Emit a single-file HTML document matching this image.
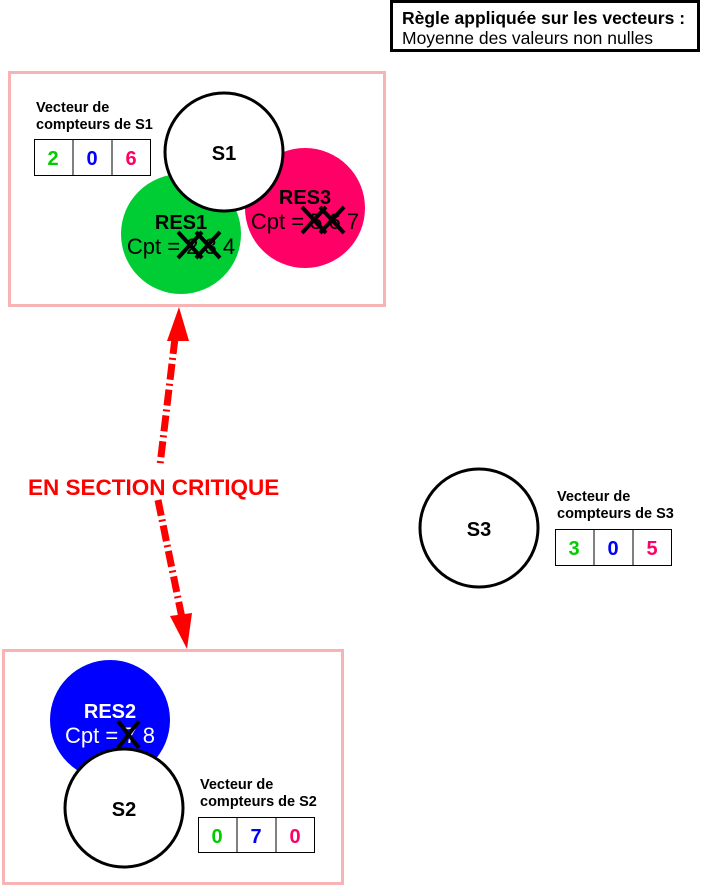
<!DOCTYPE html>
<html><head><meta charset="utf-8"><style>body{margin:0;background:#fff}svg{display:block}text{font-family:"Liberation Sans",sans-serif}</style></head><body>
<svg width="702" height="886" viewBox="0 0 702 886">
<rect x="391.5" y="1.5" width="307" height="49" fill="#fff" stroke="#000" stroke-width="3"/>
<text x="402" y="24" font-size="17.5" font-weight="bold">Règle appliquée sur les vecteurs :</text>
<text x="402" y="44" font-size="17.5">Moyenne des valeurs non nulles</text>

<rect x="9.5" y="72.5" width="375" height="233" fill="none" stroke="#f8b4b4" stroke-width="3"/>
<rect x="3.5" y="650.5" width="339" height="233" fill="none" stroke="#f8b4b4" stroke-width="3"/>

<circle cx="181" cy="234" r="60" fill="#00cc33"/>
<circle cx="305" cy="208" r="60" fill="#ff0066"/>
<circle cx="224" cy="152" r="59" fill="#fff" stroke="#000" stroke-width="3"/>
<text x="224" y="160" font-size="20" font-weight="bold" text-anchor="middle">S1</text>
<text x="181" y="229" font-size="20" font-weight="bold" text-anchor="middle">RES1</text>
<text x="181" y="254" font-size="22" text-anchor="middle">Cpt = 2 3 4</text>
<path d="M178 232 L202 258 M202 232 L178 258 M196 232 L220 258 M220 232 L196 258" stroke="#000" stroke-width="4"/>
<text x="305" y="204" font-size="20" font-weight="bold" text-anchor="middle">RES3</text>
<text x="305" y="229" font-size="22" text-anchor="middle">Cpt = 5 6 7</text>
<path d="M302 207 L326 233 M326 207 L302 233 M320 207 L344 233 M344 207 L320 233" stroke="#000" stroke-width="4"/>

<text x="36" y="112" font-size="14.5" font-weight="bold">Vecteur de</text>
<text x="36" y="129" font-size="14.5" font-weight="bold">compteurs de S1</text>
<rect x="34.5" y="139.5" width="116" height="36" fill="#fff" stroke="#000"/>
<line x1="73" y1="139" x2="73" y2="175" stroke="#000"/><line x1="112" y1="139" x2="112" y2="175" stroke="#000"/>
<text x="53" y="165" font-size="20" font-weight="bold" fill="#00cc00" text-anchor="middle">2</text>
<text x="92" y="165" font-size="20" font-weight="bold" fill="#0000ff" text-anchor="middle">0</text>
<text x="131" y="165" font-size="20" font-weight="bold" fill="#ff0066" text-anchor="middle">6</text>

<path d="M175 338 L160 465" fill="none" stroke="#f00" stroke-width="7" stroke-dasharray="16,4,2,4"/>
<path d="M158 500 L182 618" fill="none" stroke="#f00" stroke-width="7" stroke-dasharray="16,4,2,4"/>
<polygon points="179,307 167,341 189,341" fill="#f00"/>
<polygon points="187,649 170,616 192,613" fill="#f00"/>
<text x="28" y="495" font-size="22.5" font-weight="bold" fill="#f00">EN SECTION CRITIQUE</text>

<circle cx="479" cy="528" r="59" fill="#fff" stroke="#000" stroke-width="3"/>
<text x="479" y="536" font-size="20" font-weight="bold" text-anchor="middle">S3</text>
<text x="557" y="501" font-size="14.5" font-weight="bold">Vecteur de</text>
<text x="557" y="518" font-size="14.5" font-weight="bold">compteurs de S3</text>
<rect x="555.5" y="529.5" width="116" height="36" fill="#fff" stroke="#000"/>
<line x1="594" y1="529" x2="594" y2="565" stroke="#000"/><line x1="633" y1="529" x2="633" y2="565" stroke="#000"/>
<text x="574" y="555" font-size="20" font-weight="bold" fill="#00cc00" text-anchor="middle">3</text>
<text x="613" y="555" font-size="20" font-weight="bold" fill="#0000ff" text-anchor="middle">0</text>
<text x="652" y="555" font-size="20" font-weight="bold" fill="#ff0066" text-anchor="middle">5</text>

<circle cx="110" cy="720" r="60" fill="#0000ff"/>
<text x="110" y="718" font-size="20" font-weight="bold" fill="#fff" text-anchor="middle">RES2</text>
<text x="110" y="743" font-size="22" fill="#fff" text-anchor="middle">Cpt = 7 8</text>
<path d="M118 721 L139 748 M139 721 L118 748" stroke="#000" stroke-width="4"/>
<circle cx="124" cy="808" r="59" fill="#fff" stroke="#000" stroke-width="3"/>
<text x="124" y="816" font-size="20" font-weight="bold" text-anchor="middle">S2</text>
<text x="200" y="789" font-size="14.5" font-weight="bold">Vecteur de</text>
<text x="200" y="806" font-size="14.5" font-weight="bold">compteurs de S2</text>
<rect x="198.5" y="817.5" width="116" height="35" fill="#fff" stroke="#000"/>
<line x1="237" y1="817" x2="237" y2="852" stroke="#000"/><line x1="276" y1="817" x2="276" y2="852" stroke="#000"/>
<text x="217" y="843" font-size="20" font-weight="bold" fill="#00cc00" text-anchor="middle">0</text>
<text x="256" y="843" font-size="20" font-weight="bold" fill="#0000ff" text-anchor="middle">7</text>
<text x="295" y="843" font-size="20" font-weight="bold" fill="#ff0066" text-anchor="middle">0</text>
</svg>
</body></html>
